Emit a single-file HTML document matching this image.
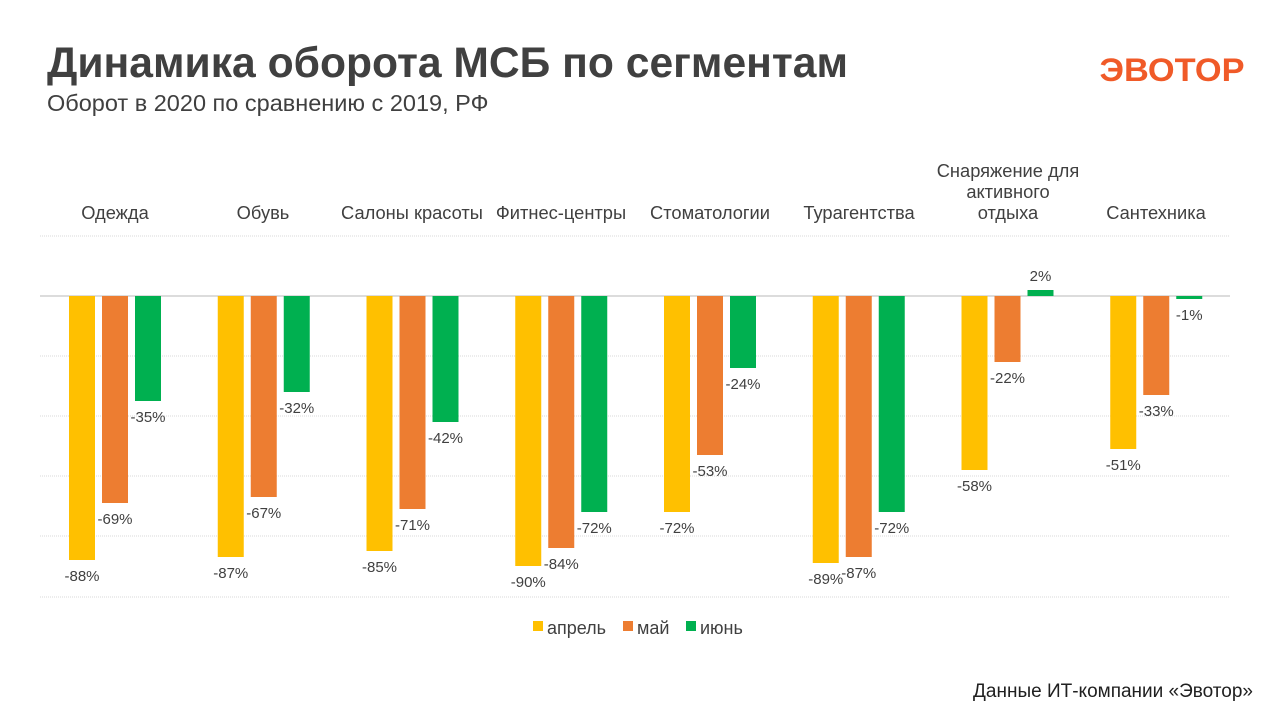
<!DOCTYPE html>
<html><head><meta charset="utf-8"><style>
body{margin:0;width:1280px;height:720px;background:#fff;overflow:hidden;font-family:"Liberation Sans",sans-serif}
</style></head><body>
<svg width="1280" height="720" xmlns="http://www.w3.org/2000/svg" font-family="Liberation Sans, sans-serif">
<text x="47" y="77" font-size="43" font-weight="bold" fill="#404040" textLength="801" lengthAdjust="spacingAndGlyphs">Динамика оборота МСБ по сегментам</text>
<text x="47" y="111" font-size="23.5" fill="#404040">Оборот в 2020 по сравнению с 2019, РФ</text>
<text x="1172" y="81" font-size="32" font-weight="bold" fill="#f05a28" text-anchor="middle" textLength="145" lengthAdjust="spacingAndGlyphs">ЭВОТОР</text>
<g stroke="#d9d9d9" stroke-width="1">
<line x1="40" x2="1230" y1="236" y2="236" stroke-dasharray="1,1"/>
<line x1="40" x2="1230" y1="356" y2="356" stroke-dasharray="1,1"/>
<line x1="40" x2="1230" y1="416" y2="416" stroke-dasharray="1,1"/>
<line x1="40" x2="1230" y1="476" y2="476" stroke-dasharray="1,1"/>
<line x1="40" x2="1230" y1="536" y2="536" stroke-dasharray="1,1"/>
<line x1="40" x2="1230" y1="597" y2="597" stroke-dasharray="1,1"/>
<line x1="40" x2="1230" y1="296" y2="296" stroke="#d0d0d0" stroke-width="1.5"/>
</g>
<g font-size="18.3" fill="#404040" text-anchor="middle">
<text x="115" y="219">Одежда</text>
<text x="263" y="219">Обувь</text>
<text x="412" y="219">Салоны красоты</text>
<text x="561" y="219">Фитнес-центры</text>
<text x="710" y="219">Стоматологии</text>
<text x="859" y="219">Турагентства</text>
<text x="1008" y="177">Снаряжение для</text>
<text x="1008" y="198">активного</text>
<text x="1008" y="219">отдыха</text>
<text x="1156" y="219">Сантехника</text>
</g>
<g font-size="18" fill="#404040">
<rect x="533" y="621" width="10" height="10" fill="#ffc000"/><text x="547" y="634">апрель</text>
<rect x="623" y="621" width="10" height="10" fill="#ed7d31"/><text x="637" y="634">май</text>
<rect x="686" y="621" width="10" height="10" fill="#00b050"/><text x="700" y="634">июнь</text>
</g>
<text x="1253" y="697" font-size="19" fill="#202020" text-anchor="end">Данные ИТ-компании «Эвотор»</text>
<g id="bars"></g>
<script>
var d=[[-88,-69,-35],[-87,-67,-32],[-85,-71,-42],[-90,-84,-72],[-72,-53,-24],[-89,-87,-72],[-58,-22,2],[-51,-33,-1]];
var col=["#ffc000","#ed7d31","#00b050"];
var NS="http://www.w3.org/2000/svg",g=document.getElementById("bars");
d.forEach(function(r,i){r.forEach(function(v,j){
var x=40+i*148.75+29+j*33,h=Math.abs(v)*3,y=v<0?296:296-h;
var rc=document.createElementNS(NS,"rect");rc.setAttribute("x",x);rc.setAttribute("y",y);rc.setAttribute("width",26);rc.setAttribute("height",Math.max(h,3));rc.setAttribute("fill",col[j]);g.appendChild(rc);
var t=document.createElementNS(NS,"text");t.setAttribute("x",x+13);t.setAttribute("y",v<0?296+Math.max(h,3)+21:y-9);t.setAttribute("font-size","15");t.setAttribute("fill","#404040");t.setAttribute("text-anchor","middle");t.textContent=v+"%";g.appendChild(t);
});});
</script>
</svg>
</body></html>
